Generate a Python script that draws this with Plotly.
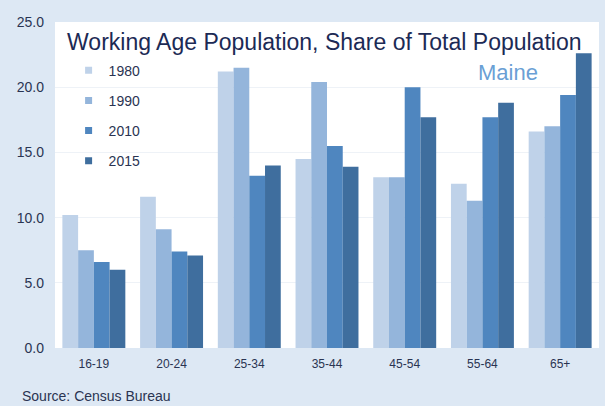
import plotly.graph_objects as go

categories = ["16-19", "20-24", "25-34", "35-44", "45-54", "55-64", "65+"]
years = ["1980", "1990", "2010", "2015"]
v1980 = [10.2, 11.6, 21.2, 14.5, 13.1, 12.6, 16.6]
v1990 = [7.5, 9.1, 21.5, 20.4, 13.1, 11.3, 17.0]
v2010 = [6.6, 7.4, 13.2, 15.5, 20.0, 17.7, 19.4]
v2015 = [6.0, 7.1, 14.0, 13.9, 17.7, 18.8, 22.6]
y_ticks = [0, 5, 10, 15, 20, 25]

series = [v1980, v1990, v2010, v2015]
colors = ["#bfd2e9", "#94b5db", "#4f86bf", "#3f6e9e"]

fig = go.Figure()
for name, vals, col in zip(years, series, colors):
    fig.add_trace(go.Bar(x=categories, y=vals, name=name, marker_color=col,
                         marker_line_width=0, legendgroup=name, showlegend=False))
    # legend entry with a small square symbol
    fig.add_trace(go.Scatter(x=[None], y=[None], mode="markers", name=name,
                             marker=dict(symbol="square", size=7, color=col),
                             legendgroup=name, showlegend=True))

font_fam = "Liberation Sans, Arial, sans-serif"
fig.update_layout(
    width=605, height=406,
    margin=dict(l=55, r=6, t=22, b=58),
    paper_bgcolor="#dde8f4",
    plot_bgcolor="#ffffff",
    barmode="group",
    bargap=0.19,
    bargroupgap=0,
    font=dict(family=font_fam, color="#2a3452"),
    title=dict(text="Working Age Population, Share of Total Population",
               x=0.495, xref="paper", xanchor="center",
               y=1 - 42 / 406, yanchor="middle",
               font=dict(size=23, color="#1c2a55", family=font_fam)),
    legend=dict(x=0.025, y=0.9, xanchor="left", yanchor="top",
                bgcolor="rgba(0,0,0,0)", font=dict(size=14, color="#2a3452"),
                traceorder="grouped", tracegroupgap=9, itemwidth=30),
    showlegend=True,
    xaxis=dict(showgrid=False, ticks="", tickfont=dict(size=12), zeroline=False,
               showline=False, ticklabelstandoff=7),
    yaxis=dict(range=[0, 25], tickvals=y_ticks, tickformat=".1f",
               showgrid=True, gridcolor="#eef2f7", gridwidth=1,
               zeroline=False, tickfont=dict(size=14), ticks="",
               ticklabelstandoff=10),
    annotations=[
        dict(text="Maine", xref="paper", yref="paper",
             x=(508 - 55) / 544, y=(348 - 72) / 326, xanchor="center", yanchor="middle",
             showarrow=False, font=dict(size=22, color="#6a9fd5", family=font_fam)),
        dict(text="Source: Census Bureau", xref="paper", yref="paper",
             x=-35 / 544, y=(348 - 406) / 326, xanchor="left", yanchor="bottom",
             showarrow=False, font=dict(size=14, color="#2a3452", family=font_fam)),
    ],
)

fig.write_html("out.html", config={"displayModeBar": False},
               post_script="document.body.style.margin='0';document.body.style.padding='0';")
